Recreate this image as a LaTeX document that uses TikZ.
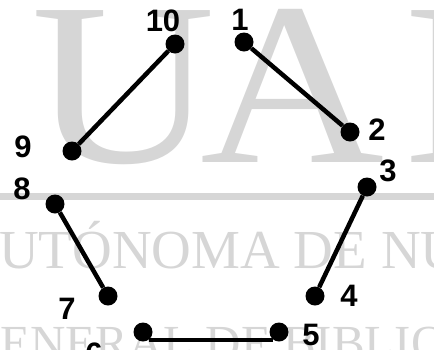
\documentclass[tikz,border=0pt]{standalone}
\usepackage{fontspec}
\setmainfont{Liberation Serif}
\newfontfamily\numfont{Liberation Sans}
\usetikzlibrary{positioning}
\definecolor{markgray}{gray}{0.84}

\begin{document}
\begin{tikzpicture}[
  x=1pt, y=-1pt,
  dot/.style={circle, fill=black, inner sep=0pt, minimum size=19pt},
  numtext/.style={font=\numfont\bfseries\fontsize{31}{31}\selectfont, inner sep=0pt},
  link/.style={line width=4.5pt},
  marktext/.style={text=markgray, inner sep=0pt},
  bigmark/.style={marktext, font=\fontsize{255}{255}\selectfont}
]
\useasboundingbox (0,0) rectangle (434,349);
\clip (0,0) rectangle (434,349);

%% Watermark behind the figure
\node[bigmark, anchor=base] (wmU) at (124,162) {\scalebox{1}[0.91]{U}};
\node[bigmark, anchor=base] (wmA) at (293,162) {\scalebox{1}[0.91]{A}};
\node[bigmark, anchor=base west] (wmN) at (404,162) {\scalebox{1}[0.91]{N}};
\fill[markgray] (0,193) rectangle (434,200);
\node[marktext, anchor=base west, font=\fontsize{55}{55}\selectfont] (wmMid) at (-1,268) {UTÓNOMA DE NUEVO};
\node[marktext, anchor=base west, font=\fontsize{49}{49}\selectfont] (wmLow) at (0,359) {ENERAL DE BIBLIOTECAS};

%% Dots
\foreach \n/\x/\y in {1/244/42, 2/350/132, 3/367/187, 4/315/296, 5/279/332,
                      6/143/332, 7/108/296, 8/55/204, 9/72/151, 10/175/44}
  \node[dot] (d\n) at (\x,\y) {};

%% Numbers
\foreach \n/\x/\y in {1/240/20, 2/377/130, 3/388/171, 4/349/296, 5/311/335,
                      6/94/354, 7/67/309, 8/22/189, 9/23/147, 10/163/21}
  \node[numtext] (l\n) at (\x,\y) {\n};

%% Links
\draw[link] (d10) -- (d9);
\draw[link] (d1) -- (d2);
\draw[link] (d3) -- (d4);
\draw[link] (d8) -- (d7);
\draw[link] (d6.-55) -- (d5.-125);
\end{tikzpicture}
\end{document}
